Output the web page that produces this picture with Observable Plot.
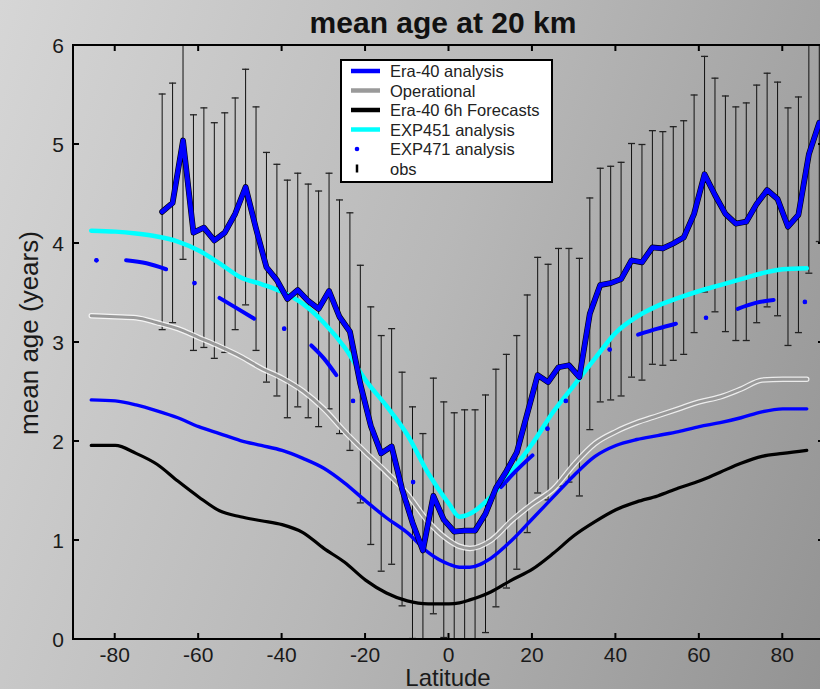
<!DOCTYPE html>
<html><head><meta charset="utf-8">
<script src="https://cdn.jsdelivr.net/npm/d3@7"></script>
<script src="https://cdn.jsdelivr.net/npm/@observablehq/plot@0.6"></script>
<style>
html,body{margin:0;padding:0;}
body{width:820px;height:689px;overflow:hidden;background:linear-gradient(110deg,#d6d6d6 0%,#b8b8b8 50%,#939393 100%);font-family:"Liberation Sans",Arial,Helvetica,sans-serif;}
#chart svg{display:block;background:transparent;}
</style></head><body><div id="chart"></div>
<script>
// ---- data ----
const smoothLat = [-85.75,-80,-75,-70,-65,-60,-55,-50,-45,-40,-35,-30,-25,-20,-15,-10,-5,0,2.5,5,10,15,20,25,30,35,40,45,50,55,60,65,70,75,80,85.75];
const era40Analysis = [2.42,2.41,2.37,2.31,2.24,2.15,2.08,2.01,1.96,1.91,1.83,1.73,1.58,1.40,1.23,1.08,0.88,0.76,0.73,0.73,0.82,1.00,1.22,1.44,1.66,1.85,1.96,2.02,2.06,2.10,2.15,2.19,2.24,2.30,2.33,2.33];
const operational = [3.27,3.26,3.25,3.20,3.14,3.05,2.96,2.86,2.74,2.64,2.51,2.33,2.10,1.89,1.69,1.47,1.19,1.00,0.94,0.92,1.00,1.20,1.37,1.52,1.77,1.98,2.10,2.19,2.26,2.33,2.40,2.45,2.53,2.62,2.63,2.63];
const era40Forecasts = [1.96,1.96,1.88,1.77,1.60,1.44,1.30,1.24,1.20,1.16,1.08,0.92,0.78,0.60,0.47,0.39,0.36,0.36,0.37,0.40,0.48,0.60,0.71,0.87,1.05,1.19,1.31,1.39,1.45,1.53,1.60,1.69,1.78,1.85,1.88,1.91];
const exp451 = [4.13,4.12,4.10,4.07,4.02,3.93,3.80,3.66,3.59,3.51,3.39,3.20,2.95,2.62,2.36,2.07,1.68,1.37,1.24,1.27,1.44,1.70,1.98,2.30,2.57,2.84,3.10,3.26,3.37,3.45,3.52,3.58,3.64,3.70,3.74,3.75];

const exp471Lat = [-84.5,-77.4,-72.5,-67.8,-61,-55,-51,-46.7,-39.5,-33,-30,-27,-23,-8.6,12.5,16,20,23.6,28,38.5,45.3,50,54.4,61.6,69.2,73.5,77.8,85.3];
const exp471Val = [3.83,3.83,3.80,3.74,3.60,3.45,3.35,3.24,3.14,2.97,2.84,2.67,2.41,1.59,1.54,1.70,1.86,2.13,2.41,2.93,3.08,3.14,3.19,3.25,3.34,3.40,3.43,3.41];
const exp471Seg = [0,1,1,1,2,3,3,3,4,5,5,5,6,7,8,8,8,9,10,11,12,12,12,13,14,14,14,15];

const obsLat = [-68.75,-66.25,-63.75,-61.25,-58.75,-56.25,-53.75,-51.25,-48.75,-46.25,-43.75,-41.25,-38.75,-36.25,-33.75,-31.25,-28.75,-26.25,-23.75,-21.25,-18.75,-16.25,-13.75,-11.25,-8.75,-6.25,-3.75,-1.25,
  1.25,3.75,6.25,8.75,11.25,13.75,16.25,18.75,21.25,23.75,26.25,28.75,31.25,33.75,36.25,38.75,41.25,43.75,46.25,48.75,51.25,53.75,56.25,58.75,61.25,63.75,66.25,68.75,71.25,73.75,76.25,78.75,81.25,83.75,86.25,88.75];
const obsMean = [4.32,4.41,5.04,4.11,4.16,4.03,4.11,4.30,4.57,4.15,3.76,3.63,3.44,3.53,3.42,3.34,3.52,3.26,3.11,2.58,2.16,1.88,1.95,1.52,1.18,0.90,1.45,1.21,
  1.09,1.10,1.10,1.27,1.53,1.70,1.89,2.28,2.67,2.60,2.75,2.77,2.65,3.29,3.58,3.60,3.64,3.83,3.81,3.96,3.95,4.00,4.06,4.30,4.70,4.49,4.30,4.20,4.22,4.40,4.54,4.45,4.17,4.29,4.90,5.22];
const obsErr = [1.19,1.21,1.20,1.19,1.21,1.19,1.21,1.17,1.19,1.23,1.16,1.17,1.20,1.18,1.18,1.19,1.19,1.18,1.20,1.20,1.20,1.19,1.19,1.18,1.17,1.18,1.19,1.19,
  1.20,1.22,1.22,1.20,1.20,1.18,1.18,1.20,1.19,1.19,1.20,1.18,1.20,1.17,1.18,1.18,1.18,1.18,1.19,1.18,1.18,1.18,1.18,1.20,1.19,1.18,1.19,1.18,1.20,1.20,1.18,1.18,1.20,1.19,1.20,1.20];

const xTicks = [-80,-60,-40,-20,0,20,40,60,80];
const yTicks = [0,1,2,3,4,5,6];

const series = [
  {name: "Era-40 analysis", color: "#0000ff"},
  {name: "Operational", color: "#9a9a9a"},
  {name: "Era-40 6h Forecasts", color: "#000000"},
  {name: "EXP451 analysis", color: "#00ffff"},
  {name: "EXP471 analysis", color: "#0000ff"},
  {name: "obs", color: "#000000"}
];

// ---- tables ----
const curve = vals => smoothLat.map((lat, i) => ({lat, v: vals[i]}));
const obs = obsLat.map((lat, i) => ({lat, mean: obsMean[i], lo: obsMean[i] - obsErr[i], hi: obsMean[i] + obsErr[i]}));
const exp471 = exp471Lat.map((lat, i) => ({lat, v: exp471Val[i], seg: exp471Seg[i]}));
const segCount = d3.rollup(exp471, g => g.length, d => d.seg);
const exp471Single = exp471.filter(d => segCount.get(d.seg) === 1);
const caps = obs.flatMap(d => [{lat: d.lat, v: d.lo}, {lat: d.lat, v: d.hi}]);
const capSymbol = {draw(ctx, size) { ctx.moveTo(-3.5, 0); ctx.lineTo(3.5, 0); }};

const plot = Plot.plot({
  width: 820, height: 689,
  marginLeft: 73, marginRight: 0, marginTop: 45, marginBottom: 50,
  style: {background: "transparent", overflow: "hidden"},
  x: {domain: [-90, 90], range: [73, 824], axis: null},
  y: {domain: [0, 6], range: [639, 45], axis: null},
  marks: [
    Plot.ruleX(obs, {x: "lat", y1: "lo", y2: "hi", stroke: "#111", strokeWidth: 1, clip: true}),
    Plot.dot(caps, {x: "lat", y: "v", symbol: capSymbol, r: 3, stroke: "#222", strokeWidth: 1.3, fill: "none", clip: true}),
    Plot.line(curve(era40Forecasts), {x: "lat", y: "v", stroke: series[2].color, strokeWidth: 3.2, curve: "monotone-x"}),
    Plot.line(curve(era40Analysis), {x: "lat", y: "v", stroke: series[0].color, strokeWidth: 3.4, curve: "monotone-x"}),
    Plot.line(curve(operational), {x: "lat", y: "v", stroke: "#ffffff", strokeOpacity: 0.8, strokeWidth: 5.5, curve: "monotone-x"}),
    Plot.line(curve(operational), {x: "lat", y: "v", stroke: series[1].color, strokeWidth: 3, curve: "monotone-x"}),
    Plot.line(curve(exp451), {x: "lat", y: "v", stroke: series[3].color, strokeWidth: 4.5, curve: "monotone-x"}),
    Plot.line(exp471, {x: "lat", y: "v", z: "seg", stroke: series[4].color, strokeWidth: 4, strokeLinecap: "round", curve: "monotone-x"}),
    Plot.dot(exp471Single, {x: "lat", y: "v", r: 2.3, fill: series[4].color}),
    Plot.line(obs, {x: "lat", y: "mean", stroke: "#000", strokeWidth: 5.8, strokeLinejoin: "round"}),
    Plot.line(obs, {x: "lat", y: "mean", stroke: "#0000ff", strokeWidth: 4.6, strokeLinejoin: "round"})
  ]
});
document.getElementById("chart").appendChild(plot);

// ---- frame, ticks, labels ----
const svg = d3.select(plot);
const sx = plot.scale("x"), sy = plot.scale("y");
const X = v => sx.apply(v), Y = v => sy.apply(v);
const ink = "#1a1a1a";
const FONT = "'Liberation Sans', Arial, Helvetica, sans-serif";
const g = svg.append("g").attr("font-family", FONT);
g.append("rect").attr("x", X(-90)).attr("y", Y(6)).attr("width", X(90) - X(-90)).attr("height", Y(0) - Y(6))
  .attr("fill", "none").attr("stroke", "#000").attr("stroke-width", 2);
xTicks.forEach(v => {
  g.append("line").attr("x1", X(v)).attr("x2", X(v)).attr("y1", Y(0)).attr("y2", Y(0) - 6).attr("stroke", "#000").attr("stroke-width", 2);
  g.append("line").attr("x1", X(v)).attr("x2", X(v)).attr("y1", Y(6)).attr("y2", Y(6) + 6).attr("stroke", "#000").attr("stroke-width", 2);
  g.append("text").attr("x", X(v)).attr("y", Y(0) + 23).attr("text-anchor", "middle")
    .attr("font-size", 21).attr("fill", ink).text(String(v));
});
yTicks.forEach(v => {
  g.append("line").attr("x1", X(-90)).attr("x2", X(-90) + 6).attr("y1", Y(v)).attr("y2", Y(v)).attr("stroke", "#000").attr("stroke-width", 2);
  g.append("line").attr("x1", X(90)).attr("x2", X(90) - 6).attr("y1", Y(v)).attr("y2", Y(v)).attr("stroke", "#000").attr("stroke-width", 2);
  g.append("text").attr("x", X(-90) - 9).attr("y", Y(v) + 7.5).attr("text-anchor", "end")
    .attr("font-size", 21).attr("fill", ink).text(String(v));
});
g.append("text").attr("x", 443).attr("y", 33).attr("text-anchor", "middle").attr("font-size", 30).attr("font-weight", "bold")
  .attr("fill", "#111").text("mean age at 20 km");
g.append("text").attr("x", 448).attr("y", 686).attr("text-anchor", "middle").attr("font-size", 24).attr("fill", ink).text("Latitude");
g.append("text").attr("transform", "translate(38,333) rotate(-90)").attr("text-anchor", "middle").attr("font-size", 26)
  .attr("fill", ink).text("mean age (years)");

// ---- legend ----
const lg = svg.append("g").attr("font-family", FONT);
lg.append("rect").attr("x", 341).attr("y", 60).attr("width", 211).attr("height", 122)
  .attr("fill", "#fff").attr("stroke", "#000").attr("stroke-width", 2);
const rowY = [71, 90.5, 110, 129.5, 149, 168.5];
series.forEach((s, i) => {
  const yy = rowY[i];
  if (i < 4) {
    lg.append("line").attr("x1", 351).attr("x2", 380).attr("y1", yy).attr("y2", yy)
      .attr("stroke", s.color).attr("stroke-width", 4.5);
  } else if (i === 4) {
    lg.append("circle").attr("cx", 357).attr("cy", yy).attr("r", 2.3).attr("fill", s.color);
  } else {
    lg.append("line").attr("x1", 357).attr("x2", 357).attr("y1", yy - 4).attr("y2", yy + 4)
      .attr("stroke", s.color).attr("stroke-width", 2.5);
  }
  lg.append("text").attr("x", 390).attr("y", yy + 6).attr("text-anchor", "start")
    .attr("font-size", 16.5).attr("fill", "#222").text(s.name);
});
</script>
</body></html>
